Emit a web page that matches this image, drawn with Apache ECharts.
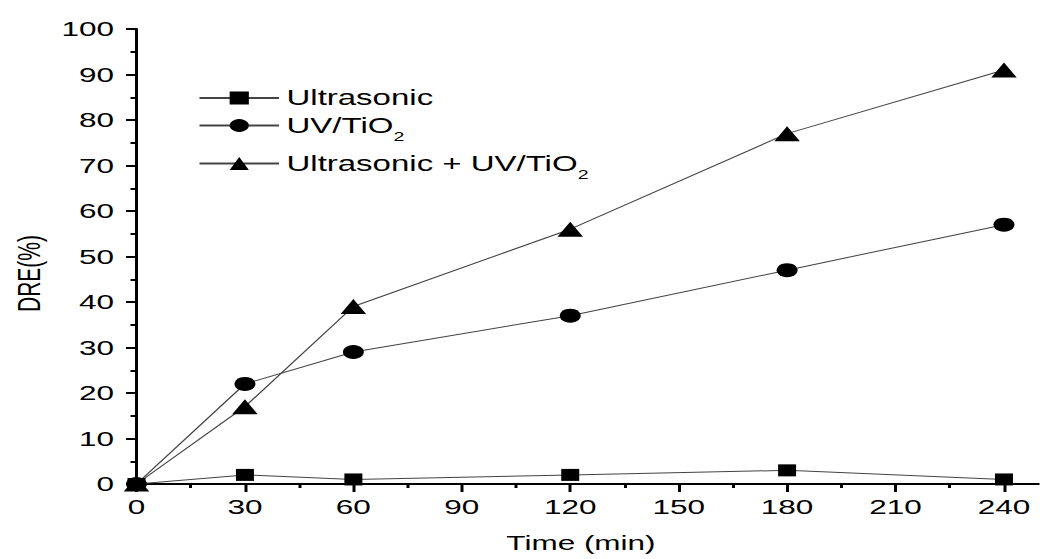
<!DOCTYPE html>
<html>
<head>
<meta charset="utf-8">
<script src="https://cdn.jsdelivr.net/npm/echarts@6/dist/echarts.min.js"></script>
<style>
	html, body { margin: 0; padding: 0; background: #fff; overflow: hidden; }
	/* the original figure is stretched sideways, so the chart is drawn narrow and widened */
	#main { width: 693.333px; height: 559px; transform: scaleX(1.5); transform-origin: 0 0; }
</style>
</head>
<body>
<div id="main"></div>
<script>
var times = [0, 30, 60, 120, 180, 240];
var ultrasonic = [0, 2, 1, 2, 3, 1];
var uvTiO2 = [0, 22, 29, 37, 47, 57];
var combined = [0, 17, 39, 56, 77, 91];
var xTicks = [0, 30, 60, 90, 120, 150, 180, 210, 240];

function pairs(vals){
	var out = [];
	for(var i=0;i<times.length;i++){
		out.push([times[i], vals[i]]);
	}
	return out;
}

var font = "'Liberation Sans', Arial, sans-serif";
var richText = {
	sub: { fontSize: 13, fontFamily: font, color: '#000', lineHeight: 12, padding: [22, 0, 0, 0] }
};

function makeLegend(name, top){
	return {
		data: [name],
		left: 132,
		top: top,
		padding: 0,
		orient: 'vertical',
		itemWidth: 53,
		itemHeight: 16,
		itemGap: 0,
		selectedMode: false,
		textStyle: { fontSize: 22, fontFamily: font, color: '#000', lineHeight: 24, rich: richText },
		formatter: function(n){
			return n.replace(/TiO2/g, 'TiO{sub|2}');
		}
	};
}

var lineStyle = { color: '#444', width: 1 };

var myChart = echarts.init(document.getElementById('main'), null, { renderer: 'svg' });
var option = {
	animation: false,
	backgroundColor: '#fff',
	grid: {
		left: 91,
		top: 29,
		bottom: 75,
		width: 650.6,
		containLabel: false,
		outerBoundsMode: 'none'
	},
	legend: [
		makeLegend('Ultrasonic', 86),
		makeLegend('UV/TiO2', 108),
		makeLegend('Ultrasonic + UV/TiO2', 146)
	],
	xAxis: {
		type: 'value',
		min: 0,
		max: 270,
		interval: 30,
		name: 'Time (min)',
		nameLocation: 'middle',
		nameGap: 48,
		nameTextStyle: { fontSize: 21, fontFamily: font, color: '#000', padding: [0, 58, 0, 0] },
		axisLine: { show: true, lineStyle: { color: '#000', width: 2 } },
		axisTick: { show: true, length: 8, lineStyle: { color: '#000', width: 2 } },
		minorTick: { show: true, splitNumber: 2, length: 4, lineStyle: { color: '#000', width: 2 } },
		splitLine: { show: false },
		axisLabel: {
			fontSize: 21, fontFamily: font, color: '#000', margin: 12,
			formatter: function(v){ return xTicks.indexOf(v) >= 0 ? String(v) : ''; }
		}
	},
	yAxis: {
		type: 'value',
		min: 0,
		max: 100,
		interval: 10,
		name: 'DRE(%)',
		nameLocation: 'middle',
		nameRotate: 90,
		nameGap: 60,
		nameTextStyle: { fontSize: 21, fontFamily: font, color: '#000', padding: [0, 34, 0, 0] },
		axisLine: { show: true, lineStyle: { color: '#000', width: 2 } },
		axisTick: { show: true, length: 7, lineStyle: { color: '#000', width: 2 } },
		minorTick: { show: true, splitNumber: 2, length: 4, lineStyle: { color: '#000', width: 2 } },
		splitLine: { show: false },
		axisLabel: { fontSize: 21, fontFamily: font, color: '#000', margin: 15 }
	},
	series: [
		{
			name: 'Ultrasonic', type: 'line', data: pairs(ultrasonic),
			symbol: 'rect', symbolSize: 12,
			itemStyle: { color: '#000' }, lineStyle: lineStyle,
			emphasis: { disabled: true }
		},
		{
			name: 'UV/TiO2', type: 'line', data: pairs(uvTiO2),
			symbol: 'circle', symbolSize: 14,
			itemStyle: { color: '#000' }, lineStyle: lineStyle,
			emphasis: { disabled: true }
		},
		{
			name: 'Ultrasonic + UV/TiO2', type: 'line', data: pairs(combined),
			symbol: 'triangle', symbolSize: [17, 15],
			itemStyle: { color: '#000' }, lineStyle: lineStyle,
			emphasis: { disabled: true }
		}
	]
};
myChart.setOption(option);
</script>
</body>
</html>
